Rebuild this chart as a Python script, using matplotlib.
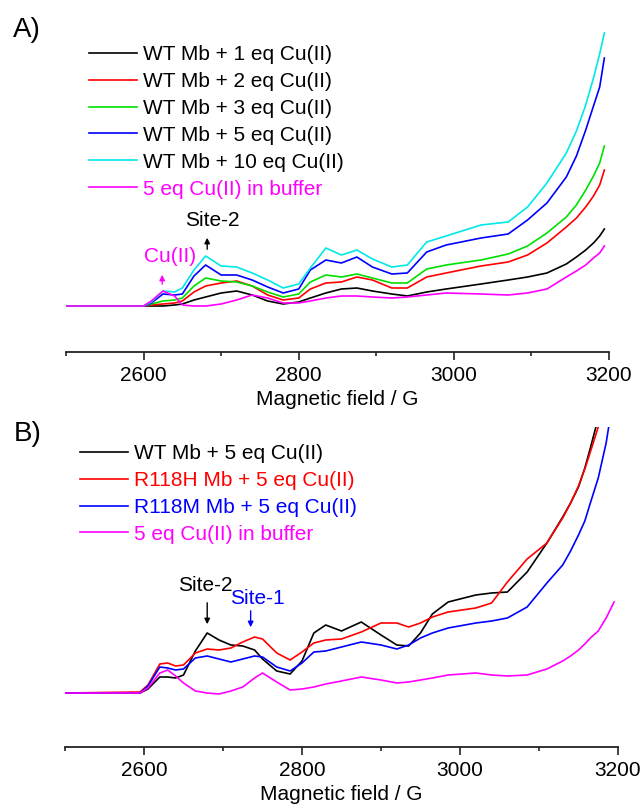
import matplotlib
matplotlib.use("Agg")
import matplotlib.pyplot as plt
from matplotlib.ticker import FixedLocator

plt.rcParams['font.family'] = ['Liberation Sans', 'DejaVu Sans']

# ---------------- Panel A data ----------------
A_field = [2500, 2600, 2610, 2625, 2640, 2650, 2665, 2680, 2700, 2720, 2740, 2760,
           2780, 2800, 2815, 2835, 2855, 2875, 2895, 2920, 2940, 2965, 2990, 3035,
           3070, 3095, 3120, 3145, 3158, 3170, 3180, 3188, 3194]
A_wt10 = [0, 0, 4, 15, 14, 18, 36, 50, 40, 39, 33, 26, 18, 22, 38, 58, 51, 56, 47, 39, 41,
          64, 70, 81, 84, 99, 123, 153, 175, 201, 228, 252, 273]
A_wt5 = [0, 0, 3, 12, 11, 12, 30, 41, 31, 31, 26, 19, 13, 17, 36, 46, 43, 49, 39, 32, 33,
         54, 61, 68, 72, 86, 103, 129, 150, 176, 200, 219, 248]
A_wt3 = [0, 0, 2, 5, 6, 8, 20, 28, 25, 24, 20, 14, 9, 12, 24, 31, 29, 32, 28, 23, 23,
         37, 41, 46, 52, 60, 73, 89, 101, 116, 130, 143, 160]
A_wt2 = [0, 0, 1, 2, 3, 5, 14, 20, 23, 25, 20, 11, 6, 8, 17, 23, 24, 29, 26, 18, 18,
         29, 33, 40, 44, 51, 63, 79, 88, 99, 110, 121, 136]
A_wt1 = [0, 0, 0, 0, 1, 2, 6, 9, 13, 15, 11, 5, 2, 4, 8, 13, 17, 18, 15, 12, 10,
         14, 17, 22, 26, 29, 33, 42, 49, 56, 63, 70, 77]
A_buf = [0, 0, 5, 15, 10, 1, 0, 0, 2, 6, 11, 8, 3, 3, 5, 8, 10, 10, 9, 8, 9,
         11, 13, 12, 11, 13, 17, 29, 35, 41, 48, 53, 60]
A_labels = ["WT Mb + 1 eq Cu(II)", "WT Mb + 2 eq Cu(II)", "WT Mb + 3 eq Cu(II)",
            "WT Mb + 5 eq Cu(II)", "WT Mb + 10 eq Cu(II)", "5 eq Cu(II) in buffer"]
A_colors = ["#000000", "#ff0000", "#00e000", "#0000ff", "#00e8e8", "#ff00ff"]

# ---------------- Panel B data ----------------
B_field = [2500, 2595, 2605, 2620, 2630, 2640, 2650, 2665, 2680, 2695, 2710, 2725, 2740,
           2750, 2768, 2785, 2800, 2815, 2830, 2850, 2875, 2900, 2920, 2935, 2950, 2965,
           2985, 3020, 3040, 3060, 3085, 3110, 3130, 3140, 3150, 3158, 3165, 3175, 3185,
           3195]
B_wt = [0, 0, 4, 16, 16, 15, 18, 42, 60, 53, 48, 47, 43, 34, 22, 19, 32, 60, 68, 62, 71,
        58, 48, 47, 60, 79, 91, 98, 100, 101, 121, 150, 176, 190, 206, 225, 245, 275, 320,
        360]
B_r118h = [0, 1, 8, 29, 30, 27, 28, 40, 44, 43, 45, 51, 56, 54, 40, 33, 41, 50, 53, 54, 61,
           70, 70, 66, 70, 76, 81, 85, 90, 111, 134, 150, 175, 190, 207, 224, 241, 266, 300,
           340]
B_r118m = [0, 0, 7, 26, 25, 23, 24, 35, 37, 34, 31, 34, 37, 36, 26, 22, 30, 41, 42, 46, 51,
           48, 44, 48, 55, 60, 65, 70, 72, 75, 86, 110, 128, 142, 158, 172, 190, 215, 250,
           300]
B_buf = [0, 0, 5, 20, 23, 17, 10, 2, 0, -1, 2, 6, 15, 20, 11, 3, 4, 6, 9, 12, 16,
         13, 10, 11, 13, 15, 18, 20, 18, 17, 18, 24, 32, 37, 43, 49, 55, 62, 75, 91]
B_labels = ["WT Mb + 5 eq Cu(II)", "R118H Mb + 5 eq Cu(II)", "R118M Mb + 5 eq Cu(II)",
            "5 eq Cu(II) in buffer"]
B_colors = ["#000000", "#ff0000", "#0000ff", "#ff00ff"]

FS = 15
fig = plt.figure(figsize=(6.4, 8.05), dpi=100)


def style_axis(ax):
    for s in ("left", "top", "right"):
        ax.spines[s].set_visible(False)
    ax.spines["bottom"].set_linewidth(1.3)
    ax.spines["bottom"].set_color("#222222")
    ax.set_yticks([])
    ax.set_xlim(2500, 3200)
    ax.xaxis.set_major_locator(FixedLocator([2600, 2800, 3000, 3200]))
    ax.xaxis.set_minor_locator(FixedLocator([2500, 2700, 2900, 3100]))
    ax.tick_params(axis="x", which="major", direction="out", length=6, width=1.2,
                   color="#222222", labelsize=FS, pad=4)
    ax.tick_params(axis="x", which="minor", direction="out", length=3, width=1.2,
                   color="#222222")
    ax.set_xlabel("Magnetic field / G", fontsize=FS, labelpad=4)
    ax.patch.set_alpha(0)


# ---------------- Panel A ----------------
axA = fig.add_axes([66 / 640, 1 - 352 / 805, 543 / 640, (352 - 20) / 805])
style_axis(axA)
axA.set_ylim(-46, 286)
A_series = [A_wt1, A_wt2, A_wt3, A_wt5, A_wt10, A_buf]
handlesA = []
for ys, c, lab in zip(A_series, A_colors, A_labels):
    h, = axA.plot(A_field, ys, color=c, lw=1.2, label=lab)
    handlesA.append(h)
axA.legend(handles=handlesA, loc="upper left", bbox_to_anchor=(89 / 640, 1 - 45 / 805),
           bbox_transform=fig.transFigure, frameon=False, fontsize=FS,
           handlelength=2.3, handletextpad=0.3, labelspacing=0.38, borderpad=0,
           borderaxespad=0,
           labelcolor=["black", "black", "black", "black", "black", "#ff00ff"])
axA.text(2688, 86, "Site-2", fontsize=FS, ha="center", va="center", color="black")
axA.annotate("", xy=(2682, 71), xytext=(2682, 54),
             arrowprops=dict(arrowstyle="-|>", color="black", lw=1.0, mutation_scale=8))
axA.text(2634, 49, "Cu(II)", fontsize=FS, ha="center", va="center", color="#ff00ff")
axA.annotate("", xy=(2624, 34), xytext=(2624, 19),
             arrowprops=dict(arrowstyle="-|>", color="#ff00ff", lw=1.0, mutation_scale=8))
fig.text(27 / 640, 1 - 30 / 805, "A)", fontsize=20, ha="center", va="center")

# ---------------- Panel B ----------------
axB = fig.add_axes([65 / 640, 1 - 747 / 805, 553 / 640, (747 - 426.5) / 805])
style_axis(axB)
axB.set_ylim(-54, 266.5)
B_series = [B_wt, B_r118h, B_r118m, B_buf]
handlesB = []
for ys, c, lab in zip(B_series, B_colors, B_labels):
    h, = axB.plot(B_field, ys, color=c, lw=1.2, label=lab)
    handlesB.append(h)
axB.legend(handles=handlesB, loc="upper left", bbox_to_anchor=(80 / 640, 1 - 444 / 805),
           bbox_transform=fig.transFigure, frameon=False, fontsize=FS,
           handlelength=2.3, handletextpad=0.3, labelspacing=0.38, borderpad=0,
           borderaxespad=0, labelcolor=B_colors)
axB.text(2677, 108, "Site-2", fontsize=FS, ha="center", va="center", color="black")
axB.annotate("", xy=(2680, 66), xytext=(2680, 93),
             arrowprops=dict(arrowstyle="-|>", color="black", lw=1.0, mutation_scale=8))
axB.text(2744, 95, "Site-1", fontsize=FS, ha="center", va="center", color="#0000ff")
axB.annotate("", xy=(2735, 63), xytext=(2735, 85),
             arrowprops=dict(arrowstyle="-|>", color="#0000ff", lw=1.0, mutation_scale=8))
fig.text(28 / 640, 1 - 434 / 805, "B)", fontsize=20, ha="center", va="center")

fig.savefig("out.png", dpi=100)
